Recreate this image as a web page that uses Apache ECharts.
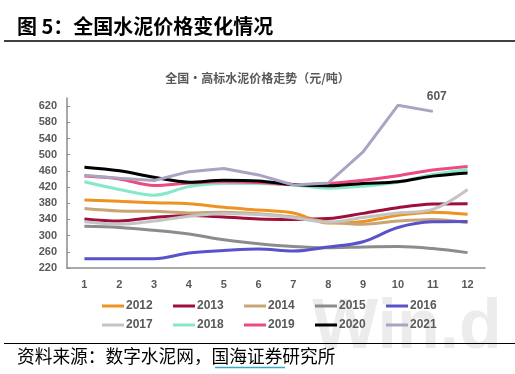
<!DOCTYPE html>
<html><head><meta charset="utf-8">
<script src="https://cdn.jsdelivr.net/npm/echarts@6/dist/echarts.min.js"></script>
<style>html,body{margin:0;padding:0;background:#fff}#c{width:515px;height:374px}</style>
</head><body><div id="c"></div>
<script>
const months = ['1','2','3','4','5','6','7','8','9','10','11','12'];
const years = ['2012','2013','2014','2015','2016','2017','2018','2019','2020','2021'];
const colors = ['#EE9220','#9E0F3B','#C9A475','#8C8C8C','#5A52C9','#C4C4C4','#86E8C8','#EC4A82','#000000','#AAA4C2'];
const v2012 = [388,385,381,379,370,363,356,331,335,350,358,353];
const v2013 = [341,336,345,350,346,341,340,342,355,369,378,379];
const v2014 = [367,361,360,356,358,354,346,334,328,336,340,332];
const v2015 = [323,320,313,304,290,280,273,270,272,273,268,258];
const v2016 = [243,243,243,257,263,267,262,272,285,320,334,335];
const v2017 = [334,328,336,348,354,352,344,333,345,356,365,414];
const v2018 = [433,414,400,421,429,429,425,417,422,432,451,463];
const v2019 = [447,440,424,430,433,431,426,429,437,448,462,471];
const v2020 = [469,460,444,432,437,435,426,423,429,433,447,455];
const v2021 = [449,442,436,458,466,450,425,430,507,622,607];
const labelledIndex = 10; // 2021 month 11 value is labelled
const allValues = [v2012,v2013,v2014,v2015,v2016,v2017,v2018,v2019,v2020,v2021];

const chart = echarts.init(document.getElementById('c'), null, {renderer:'canvas'});
const legendCols = [97,168,239,310,381];
const legendRows = [295,314];
const legends = years.map((y,i)=>({
  left: legendCols[i%5], top: legendRows[Math.floor(i/5)],
  data:[y], icon:'rect', itemWidth:22, itemHeight:3, itemGap:0,
  textStyle:{color:'#595959', fontSize:12, fontFamily:'Liberation Sans, Arial', fontWeight:'bold', padding:[0,0,0,-3]},
  selectedMode:false
}));
const series = years.map((y,i)=>{
  const s = {
    name:y, type:'line', data: allValues[i], smooth: i===9 ? false : 0.35,
    symbol:'none', lineStyle:{width:3, color:colors[i]}, itemStyle:{color:colors[i]},
    clip:false, z: 2+i
  };
  if (i === 9) {
    s.symbol = 'circle'; s.symbolSize = 1; s.showSymbol = true;
    s.label = {show:false};
    s.data = allValues[i].map((v,k)=> k===labelledIndex ? {value:v, label:{show:true, position:'top', distance:8, offset:[4,0], color:'#595959', fontSize:12, fontFamily:'Liberation Sans, Arial', fontWeight:'bold'}} : v);
  }
  return s;
});
chart.setOption({
  animation:false,
  backgroundColor:'#fff',
  legend: legends,
  grid:{left:67, right:30, top:98, bottom:106, containLabel:false},
  xAxis:{type:'category', data:months, boundaryGap:true,
    axisLine:{lineStyle:{color:'#8c8c8c', width:1.5}},
    axisTick:{inside:true, length:3, interval:0, lineStyle:{color:'#8c8c8c'}},
    axisLabel:{color:'#595959', fontSize:11, margin:11, fontFamily:'Liberation Sans, Arial', fontWeight:'bold'}},
  yAxis:{type:'value', min:220, max:640, interval:40,
    splitLine:{show:false},
    axisLine:{show:true, lineStyle:{color:'#8c8c8c', width:1.5}},
    axisTick:{show:true, inside:true, length:3, lineStyle:{color:'#8c8c8c'}},
    axisLabel:{color:'#595959', fontSize:11, margin:10, showMaxLabel:false, fontFamily:'Liberation Sans, Arial', fontWeight:'bold'}},
  series: series,
  graphic:[
    {type:'text', left:312, top:294, z:-10, style:{text:'Win.d', fontSize:70, fontWeight:'bold', fontFamily:'Liberation Sans, Arial', fill:'#ececec'}},
    {type:'text', left:17, top:16, style:{text:'图 5：全国水泥价格变化情况', fontSize:20, fontWeight:'bold', fontFamily:'Noto Sans CJK SC', fill:'#000'}},
    {type:'line', shape:{x1:4,y1:41,x2:515,y2:41}, style:{stroke:'#000', lineWidth:1.5}},
    {type:'text', left:'center', top:72, style:{text:'全国•高标水泥价格走势（元/吨）', fontSize:12, fontWeight:'bold', fontFamily:'Noto Sans CJK SC', fill:'#595959'}},
    {type:'line', shape:{x1:4,y1:343.5,x2:515,y2:343.5}, style:{stroke:'#000', lineWidth:1.2}},
    {type:'text', left:17, top:347, style:{text:'资料来源：数字水泥网，国海证券研究所', fontSize:17.7, fontFamily:'Noto Sans CJK SC', fill:'#000'}},
    {type:'line', shape:{x1:215,y1:367.5,x2:285,y2:367.5}, style:{stroke:'#3BA8C8', lineWidth:1.5}}
  ]
});
</script></body></html>
